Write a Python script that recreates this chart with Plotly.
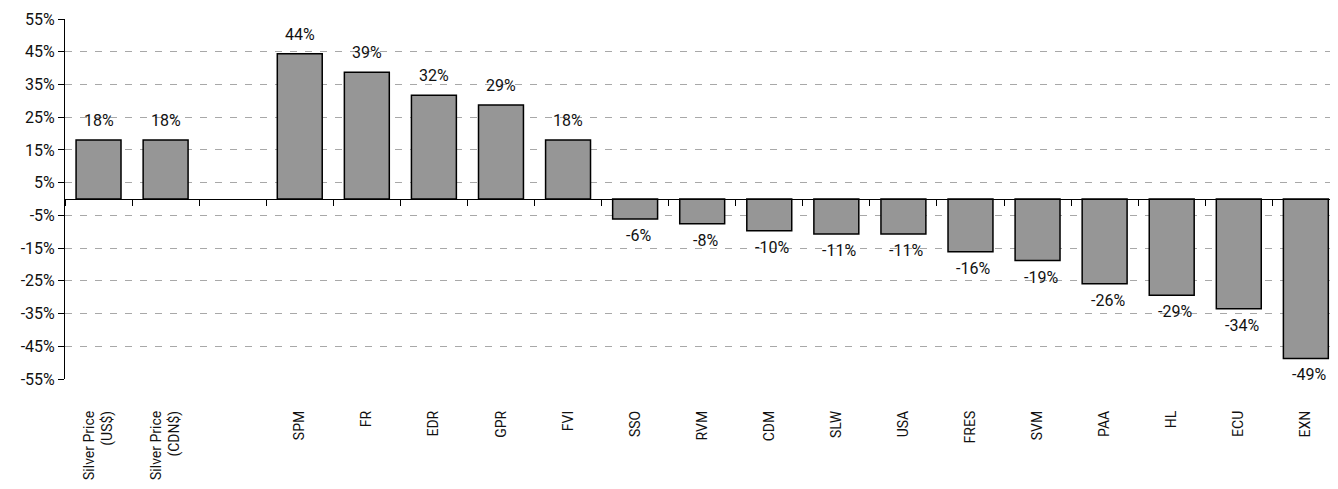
import plotly.graph_objects as go

categories = ["Silver Price<br>(US$)", "Silver Price<br>(CDN$)", " ", "SPM", "FR", "EDR", "GPR", "FVI",
              "SSO", "RVM", "CDM", "SLW", "USA", "FRES", "SVM", "PAA", "HL", "ECU", "EXN"]
values = [18.0, 18.0, None, 44.4, 38.7, 31.7, 28.7, 18.0, -6.1, -7.6, -9.7, -10.7, -10.7,
          -16.1, -18.8, -25.9, -29.4, -33.5, -48.7]
labels = ["" if v is None else f"{round(v)}%" for v in values]
tick_vals = [55, 45, 35, 25, 15, 5, -5, -15, -25, -35, -45, -55]
tick_text = [f"{t}%" for t in tick_vals]

FONT = "Roboto, Liberation Sans, Arial"
FS = 16

fig = go.Figure()
fig.add_trace(go.Bar(
    x=categories, y=values,
    marker=dict(color="#969696", line=dict(color="black", width=1.5)),
    width=0.67, xaxis="x", yaxis="y", hoverinfo="skip",
))
# invisible trace to carry the zero-line axis with boundary ticks
fig.add_trace(go.Scatter(x=categories, y=[0]*len(categories), mode="markers",
                         marker=dict(opacity=0), xaxis="x2", yaxis="y",
                         hoverinfo="skip", showlegend=False))

annotations = []
for c, v, t in zip(categories, values, labels):
    if v is None:
        continue
    if v >= 0:
        annotations.append(dict(x=c, y=v, text=t, showarrow=False, xref="x", yref="y",
                                yanchor="bottom", yshift=8,
                                font=dict(family=FONT, size=FS, color="#111")))
    else:
        annotations.append(dict(x=c, y=v, text=t, showarrow=False, xref="x", yref="y",
                                yanchor="top", xshift=3, yshift=-5,
                                font=dict(family=FONT, size=FS, color="#111")))

XR = [-0.5, 18.36]

fig.update_layout(
    width=1322, height=473,
    margin=dict(l=57, r=0, t=11, b=102),
    plot_bgcolor="white", paper_bgcolor="white",
    showlegend=False,
    font=dict(family=FONT, size=FS, color="#111"),
    annotations=annotations,
    xaxis=dict(type="category", categoryorder="array", categoryarray=categories,
               tickangle=-90, showline=False, showgrid=False, ticks="",
               ticklabelstandoff=28, tickfont=dict(family=FONT, size=14),
               automargin=False, range=XR),
    xaxis2=dict(type="category", categoryorder="array", categoryarray=categories,
                overlaying="x", anchor="free", position=0.5, side="bottom",
                showline=True, linecolor="black", linewidth=1,
                ticks="outside", ticklen=6, tickcolor="black", tickson="boundaries",
                showticklabels=False, showgrid=False, range=XR),
    yaxis=dict(range=[-55, 55], tickvals=tick_vals, ticktext=tick_text,
               showline=True, linecolor="black", linewidth=1,
               ticks="outside", ticklen=6, tickcolor="black",
               showgrid=True, gridcolor="#a8a8a8", griddash="7px,8px", gridwidth=1,
               zeroline=False, tickfont=dict(family=FONT, size=FS), automargin=False),
)

fig.write_html("out.html")
